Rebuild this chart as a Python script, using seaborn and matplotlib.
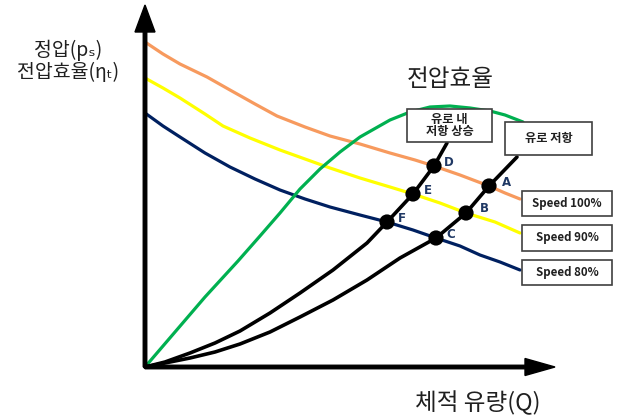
import matplotlib
matplotlib.use('Agg')
import matplotlib.pyplot as plt
import seaborn as sns
import pandas as pd
from matplotlib.patches import Rectangle

sns.set_style('white')
plt.rcParams['font.family'] = ['Noto Sans CJK KR', 'DejaVu Sans']
plt.rcParams['lines.solid_joinstyle'] = 'round'
plt.rcParams['lines.solid_capstyle'] = 'round'

# 곡선 값 (원점 기준, 유량 Q / 압력·효율)
q_100 = [0, 18, 35, 62, 85, 110, 132, 160, 185, 215, 245, 270, 289, 315, 344, 360, 375]
p_100 = [325, 313, 303, 290, 277, 263, 251, 240, 231, 223, 214, 207, 201, 192, 181, 174, 168]
q_90 = [0, 18, 35, 60, 78, 105, 135, 160, 185, 215, 245, 268, 295, 321, 350, 375]
p_90 = [289, 279, 269, 253, 241, 229, 217, 208, 199, 189, 180, 173, 164, 154, 145, 134]
q_80 = [0, 18, 35, 60, 85, 110, 135, 160, 185, 215, 242, 268, 291, 315, 335, 355, 375]
p_80 = [254, 241, 230, 214, 200, 188, 177, 168, 160, 152, 145, 137, 129, 121, 112, 105, 97]
q_eff = [0, 30, 60, 93, 115, 135, 155, 175, 195, 215, 245, 265, 285, 305, 325, 345, 360, 378]
eta = [0, 35, 70, 106, 131, 154, 178, 198, 215, 230, 247, 255, 260, 261, 259, 256, 252, 245]
q_sys1 = [0, 20, 45, 70, 95, 125, 155, 188, 222, 242, 268, 289, 302]
r_sys1 = [0, 5, 14, 24, 36, 54, 74, 97, 124, 145, 173, 201, 224]
q_sys2 = [0, 20, 45, 70, 95, 125, 155, 188, 222, 255, 291, 321, 344, 372]
r_sys2 = [0, 4, 9, 15, 23, 35, 50, 67, 87, 109, 129, 154, 181, 210]

pt_names = ['D', 'A', 'E', 'B', 'F', 'C']
pt_q = [289, 344, 268, 321, 242, 291]
pt_p = [201, 181, 173, 154, 145, 129]

speed_labels = ['Speed 100%', 'Speed 90%', 'Speed 80%']

fig = plt.figure(figsize=(6.17, 4.19), dpi=100)
ax = fig.add_axes([0, 0, 1, 1])
ax.set_xlim(-145, 472)
ax.set_ylim(-52, 367)
ax.axis('off')

curves = [
    (q_100, p_100, '#F79A5E', 2.3),
    (q_90, p_90, '#FFFF00', 2.3),
    (q_80, p_80, '#002060', 2.3),
    (q_eff, eta, '#00B050', 2.3),
    (q_sys1, r_sys1, 'black', 2.6),
    (q_sys2, r_sys2, 'black', 2.6),
]
for q, v, c, lw in curves:
    df = pd.DataFrame({'q': q, 'v': v})
    sns.lineplot(data=df, x='q', y='v', color=c, linewidth=lw, sort=False,
                 estimator=None, ax=ax, zorder=2)

pts = pd.DataFrame({'q': pt_q, 'p': pt_p, 'n': pt_names})
sns.scatterplot(data=pts, x='q', y='p', color='black', s=120, edgecolor='none',
                ax=ax, zorder=4)
for n, q, p in zip(pt_names, pt_q, pt_p):
    dx = 18 if n in ('A', 'B') else 15
    ax.text(q + dx, p + 4, n, fontsize=8.5, fontweight='bold', color='#1F3864',
            ha='center', va='center', family='DejaVu Sans', zorder=5)

# 축 화살표
ax.arrow(0, 0, 410, 0, width=3.5, head_width=17, head_length=30,
         length_includes_head=True, color='black', zorder=3)
ax.arrow(0, 0, 0, 362, width=3.5, head_width=20, head_length=27,
         length_includes_head=True, color='black', zorder=3)

# 상자
boxes = [
    (262, 225, 85, 33, '유로 내\n저항 상승', 8.8),
    (360, 212, 87, 33, '유로 저항', 8.8),
    (377, 151, 90, 25, speed_labels[0], 8.3),
    (377, 116, 90, 26, speed_labels[1], 8.3),
    (377, 82, 90, 25, speed_labels[2], 8.3),
]
for x, y, w, h, t, fs in boxes:
    ax.add_patch(Rectangle((x, y), w, h, facecolor='white', edgecolor='#404040',
                           linewidth=1.2, zorder=6))
    ax.text(x + w / 2, y + h / 2, t, ha='center', va='center', fontsize=fs,
            fontweight='bold', color='#202020', linespacing=1.0, zorder=7)

ax.text(305, 287, '전압효율', fontsize=17, ha='center', va='center', color='#202020')
ax.text(-77, 317, '정압(pₛ)', fontsize=14, ha='center', va='center', color='#202020')
ax.text(-77, 295, '전압효율(ηₜ)', fontsize=14, ha='center', va='center', color='#202020')
ax.text(333, -36, '체적 유량(Q)', fontsize=17, ha='center', va='center', color='#202020')

fig.savefig('out.png', dpi=100)
